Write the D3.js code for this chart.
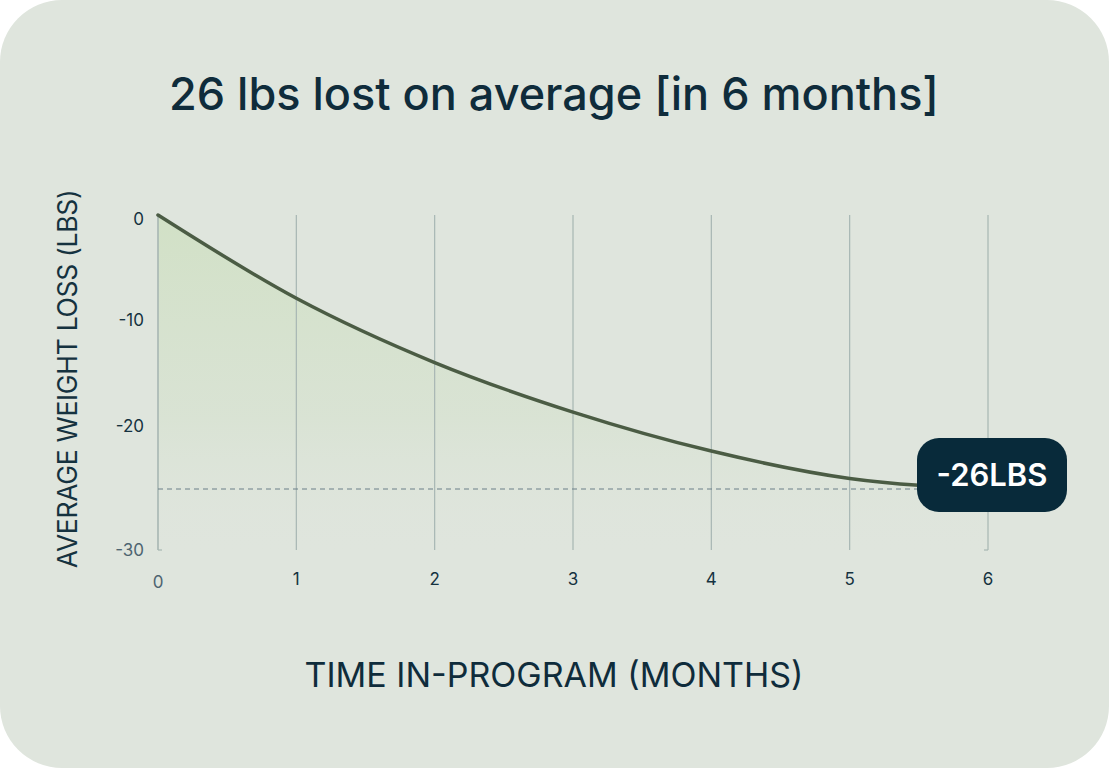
<!DOCTYPE html>
<html>
<head>
<meta charset="utf-8">
<script src="https://cdn.jsdelivr.net/npm/d3@7"></script>
<style>
    html, body { margin: 0; padding: 0; background: #ffffff; }
    svg { display: block; }
</style>
</head>
<body>
<div id="chart"></div>
<script>
// data
const months = [0, 1, 2, 3, 4, 5, 6];
const weightLoss = [0, -7.9, -14.0, -18.7, -22.4, -25.0, -26];
const yTicks = [0, -10, -20, -30];
const xTicks = [0, 1, 2, 3, 4, 5, 6];
const finalLabel = '-26LBS';
const titleText = '26 lbs lost on average [in 6 months]';

const width = 1109;
const height = 768;
const plot = { left: 158, right: 988, top: 215, bottom: 550 };

const svg = d3.select('#chart')
    .append('svg')
    .attr('width', width)
    .attr('height', height);

// card background
svg.append('rect')
    .attr('x', 0)
    .attr('y', 0)
    .attr('width', width)
    .attr('height', height)
    .attr('rx', 62)
    .attr('ry', 62)
    .attr('fill', '#dfe5dd');

const xScale = d3.scaleLinear()
    .domain([0, 6])
    .range([plot.left, plot.right]);

// the picture's axis is not evenly spaced, so the scale follows it piecewise
const yScale = d3.scaleLinear()
    .domain([0, -26, -30])
    .range([plot.top, 489, plot.bottom]);

const data = months.map((m, i) => ({ x: m, y: weightLoss[i] }));

// gradient for the area
const defs = svg.append('defs');
const grad = defs.append('linearGradient')
    .attr('id', 'areaGrad')
    .attr('x1', '0%').attr('y1', '0%')
    .attr('x2', '0%').attr('y2', '100%');
grad.append('stop').attr('offset', '0%').attr('stop-color', '#cfe0c2').attr('stop-opacity', 0.85);
grad.append('stop').attr('offset', '60%').attr('stop-color', '#d4e1cc').attr('stop-opacity', 0.55);
grad.append('stop').attr('offset', '100%').attr('stop-color', '#dfe5dd').attr('stop-opacity', 0.1);

const area = d3.area()
    .x(d => xScale(d.x))
    .y0(plot.bottom)
    .y1(d => yScale(d.y))
    .curve(d3.curveMonotoneX);

svg.append('path')
    .datum(data)
    .attr('d', area)
    .attr('fill', 'url(#areaGrad)')
    .attr('stroke', 'none');

// vertical grid lines
svg.selectAll('.grid')
    .data(xTicks)
    .enter()
    .append('line')
    .attr('class', 'grid')
    .attr('x1', d => xScale(d))
    .attr('x2', d => xScale(d))
    .attr('y1', plot.top)
    .attr('y2', plot.bottom)
    .attr('stroke', '#a7b6b3')
    .attr('stroke-width', d => d === 0 ? 1.6 : 1.2);

// small end marks at the bottom
svg.append('line')
    .attr('x1', xScale(0)).attr('x2', xScale(0) + 4)
    .attr('y1', plot.bottom).attr('y2', plot.bottom)
    .attr('stroke', '#a7b6b3').attr('stroke-width', 1.2);
svg.append('line')
    .attr('x1', xScale(6) - 4).attr('x2', xScale(6))
    .attr('y1', plot.bottom).attr('y2', plot.bottom)
    .attr('stroke', '#a7b6b3').attr('stroke-width', 1.2);

// dashed reference line at final value
svg.append('line')
    .attr('x1', xScale(0))
    .attr('x2', xScale(5.6))
    .attr('y1', yScale(weightLoss[weightLoss.length - 1]))
    .attr('y2', yScale(weightLoss[weightLoss.length - 1]))
    .attr('stroke', '#6b7f88')
    .attr('stroke-width', 1)
    .attr('stroke-dasharray', '5,4');

// curve
const line = d3.line()
    .x(d => xScale(d.x))
    .y(d => yScale(d.y))
    .curve(d3.curveMonotoneX);

svg.append('path')
    .datum(data)
    .attr('d', line)
    .attr('fill', 'none')
    .attr('stroke', '#4b5c44')
    .attr('stroke-width', 3.5)
    .attr('stroke-linecap', 'round');

// y tick labels
svg.selectAll('.y-tick')
    .data(yTicks)
    .enter()
    .append('text')
    .attr('class', 'y-tick')
    .attr('x', plot.left - 14)
    .attr('y', d => yScale(d) + (d === 0 ? 4 : 0))
    .attr('dy', '0.35em')
    .attr('text-anchor', 'end')
    .attr('fill', d => d === -30 ? '#4e6470' : '#15323f')
    .style('font-family', 'Inter, sans-serif')
    .style('font-size', '17px')
    .text(d => d);

// x tick labels
svg.selectAll('.x-tick')
    .data(xTicks)
    .enter()
    .append('text')
    .attr('class', 'x-tick')
    .attr('x', d => xScale(d))
    .attr('y', d => d === 0 ? 588 : 585)
    .attr('text-anchor', 'middle')
    .attr('fill', d => d === 0 ? '#4e6470' : '#15323f')
    .style('font-family', 'Inter, sans-serif')
    .style('font-size', '17px')
    .text(d => d);

// title
svg.append('text')
    .attr('x', 554)
    .attr('y', 110)
    .attr('text-anchor', 'middle')
    .attr('fill', '#0f2c3b')
    .style('font-family', 'Inter, sans-serif')
    .style('font-size', '45px')
    .style('font-weight', 500)
    .text(titleText);

// axis titles
svg.append('text')
    .attr('transform', 'translate(77,379) rotate(-90)')
    .attr('text-anchor', 'middle')
    .attr('fill', '#15323f')
    .style('font-family', 'Inter, sans-serif')
    .style('font-size', '26.5px')
    .style('letter-spacing', '-0.3px')
    .text('AVERAGE WEIGHT LOSS (LBS)');

svg.append('text')
    .attr('x', 554)
    .attr('y', 687)
    .attr('text-anchor', 'middle')
    .attr('fill', '#0f2c3b')
    .style('font-family', 'Inter, sans-serif')
    .style('font-size', '34px')
    .text('TIME IN-PROGRAM (MONTHS)');

// final value badge
const badge = svg.append('g')
    .attr('transform', `translate(${xScale(6) + 4},${yScale(-26) - 14})`);
badge.append('rect')
    .attr('x', -75)
    .attr('y', -37)
    .attr('width', 150)
    .attr('height', 74)
    .attr('rx', 22)
    .attr('fill', '#082a3a');
badge.append('text')
    .attr('text-anchor', 'middle')
    .attr('dy', '0.36em')
    .attr('fill', '#ffffff')
    .style('font-family', 'Inter, sans-serif')
    .style('font-size', '31px')
    .style('font-weight', 600)
    .text(finalLabel);
</script>
</body>
</html>
